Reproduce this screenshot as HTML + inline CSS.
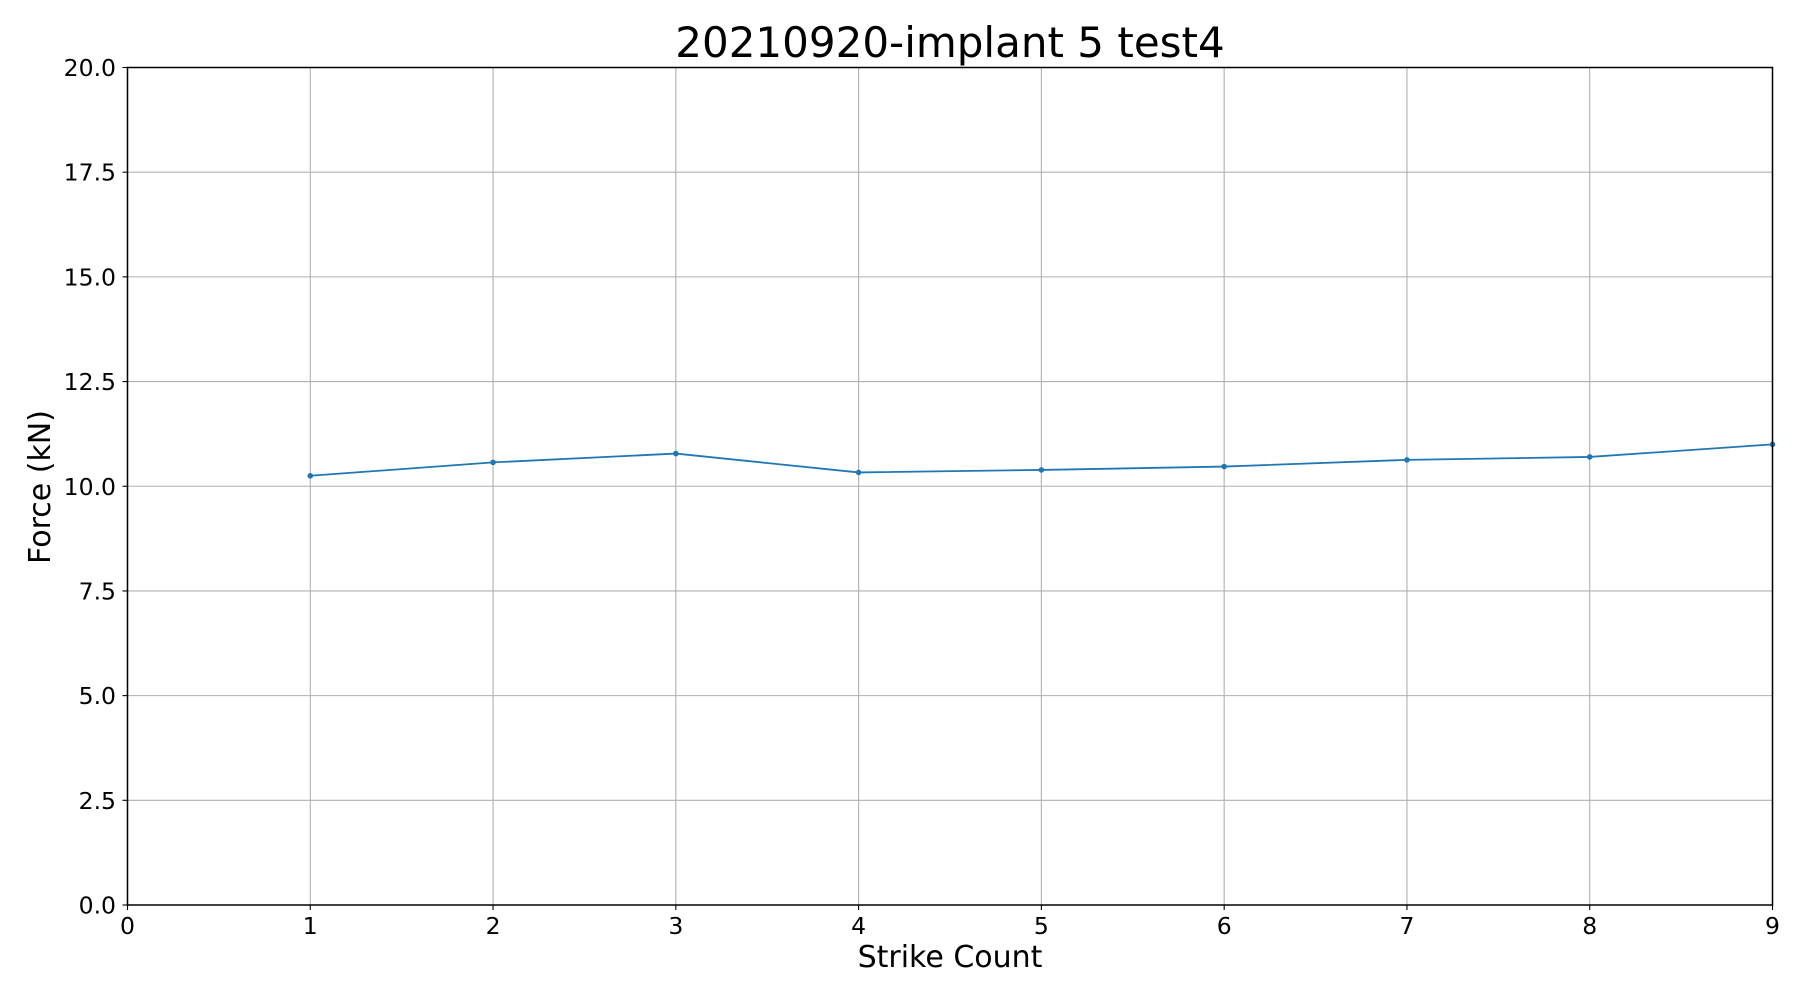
<!DOCTYPE html>
<html><head><meta charset="utf-8"><style>
html,body{margin:0;padding:0;background:#fff;}
svg{display:block;font-family:"DejaVu Sans","Liberation Sans",sans-serif;}
</style></head><body>
<svg id="chart" width="1800" height="1000">
<text x="950" y="57" font-size="42" text-anchor="middle">20210920-implant 5 test4</text>
<g id="grid"></g>
<g id="ticks"></g>
<g id="series"></g>
<rect x="127.5" y="67.5" width="1645" height="837.5" fill="none" stroke="#000" stroke-width="1.5"/>
<text x="950" y="967" font-size="30" text-anchor="middle">Strike Count</text>
<text transform="translate(50,487) rotate(-90)" font-size="30" text-anchor="middle">Force (kN)</text>
</svg>
<script>
const strikes = [1,2,3,4,5,6,7,8,9];
const forces = [10.25,10.57,10.78,10.33,10.39,10.47,10.63,10.70,11.00];
const xTicks = [0,1,2,3,4,5,6,7,8,9];
const yTicks = [0,2.5,5,7.5,10,12.5,15,17.5,20];
const yTickLabels = ["0.0","2.5","5.0","7.5","10.0","12.5","15.0","17.5","20.0"];
const L=127.5,R=1772.5,T=67.5,B=905;
const xs=v=>L+(v-0)/(9-0)*(R-L);
const ys=v=>B-(v-0)/(20-0)*(B-T);
const NS="http://www.w3.org/2000/svg";
const grid=document.getElementById('grid'),ticks=document.getElementById('ticks'),series=document.getElementById('series');
function mk(tag,attrs,parent){const e=document.createElementNS(NS,tag);for(const k in attrs)e.setAttribute(k,attrs[k]);parent.appendChild(e);return e;}
xTicks.forEach(v=>{
  const x=xs(v);
  const g=mk('line',{x1:x,x2:x,y1:T,y2:B,stroke:'#b0b0b0','stroke-width':1.1},grid);
  
  
  const t=mk('line',{x1:x,x2:x,y1:B,y2:B+5,stroke:'#000','stroke-width':1.1},ticks);
  
  
  const l=mk('text',{x:x,y:934,'font-size':23.5,'text-anchor':'middle'},ticks);
  l.textContent=String(v);
  
  
});
yTicks.forEach((v,i)=>{
  const y=ys(v);
  const g=mk('line',{x1:L,x2:R,y1:y,y2:y,stroke:'#b0b0b0','stroke-width':1.1},grid);
  
  
  const t=mk('line',{x1:L-5,x2:L,y1:y,y2:y,stroke:'#000','stroke-width':1.1},ticks);
  
  
  const l=mk('text',{x:116,y:y+8.5,'font-size':23.5,'text-anchor':'end'},ticks);
  l.textContent=yTickLabels[i];
  
  
});
const pts=strikes.map((s,i)=>xs(s)+','+ys(forces[i])).join(' ');
const line=mk('polyline',{points:pts,fill:'none',stroke:'#1f77b4','stroke-width':1.8},series);


strikes.forEach((s,i)=>{
  const c=mk('circle',{cx:xs(s),cy:ys(forces[i]),r:2.8,fill:'#1f77b4'},series);
  
  
});
</script>
</body></html>
